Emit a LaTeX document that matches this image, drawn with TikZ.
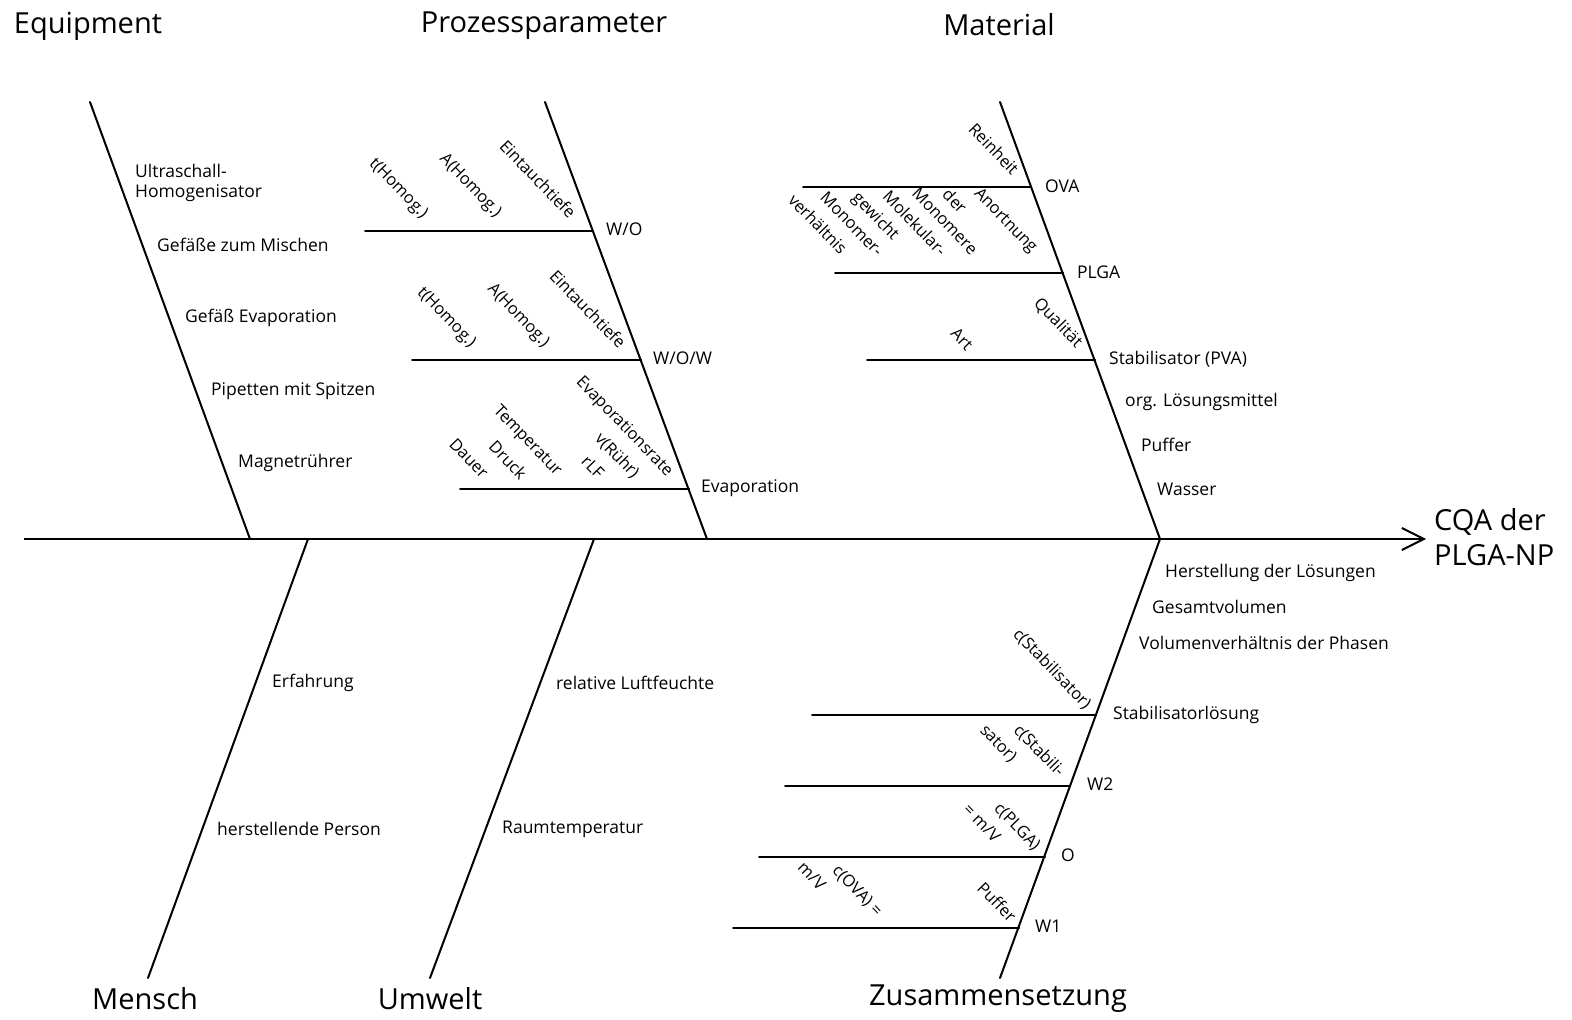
\documentclass[tikz,border=0pt]{standalone}
\usepackage{fontspec}
\setmainfont{Open Sans}
\usetikzlibrary{arrows.meta}
\begin{document}
\begin{tikzpicture}[x=1pt,y=-1pt,
  bone/.style={line width=2pt,line cap=round},
  lbl/.style={anchor=west,inner sep=0pt,font=\fontsize{17.5}{20}\selectfont,align=left},
  rlbl/.style={inner sep=0pt,rotate=-46,font=\fontsize{16.5}{19}\selectfont},
  ttl/.style={inner sep=0pt,font=\fontsize{29}{35}\selectfont,align=left}]
\useasboundingbox (0,0) rectangle (1572,1020);
% spine
\coordinate (s0) at (24,539);
\coordinate (s1) at (1426,539);
\draw[line width=2pt,-{Straight Barb[length=22pt,width=22pt,line width=2pt]}] (s0) -- (s1);
% main bones
\coordinate (eqT) at (90,102);  \coordinate (eqB) at (250,539);
\coordinate (ppT) at (545,102); \coordinate (ppB) at (707,539);
\coordinate (maT) at (1000,102);\coordinate (maB) at (1160,539);
\coordinate (meB) at (148,978); \coordinate (meT) at (308,539);
\coordinate (umB) at (430,978); \coordinate (umT) at (594,539);
\coordinate (zuB) at (1000,978);\coordinate (zuT) at (1160,539);
\draw[bone] (eqT) -- (eqB);
\draw[bone] (ppT) -- (ppB);
\draw[bone] (maT) -- (maB);
\draw[bone] (meB) -- (meT);
\draw[bone] (umB) -- (umT);
\draw[bone] (zuB) -- (zuT);
% titles
\node[ttl] (tEq) at (88,26) {Equipment};
\node[ttl] (tPp) at (544,26) {Prozessparameter};
\node[ttl] (tMa) at (999,25) {Material};
\node[ttl] (tMe) at (145,999) {Mensch};
\node[ttl] (tUm) at (430,999) {Umwelt};
\node[ttl] (tZu) at (998,999) {Zusammensetzung};
\node[ttl,anchor=west] (tCQA) at (1434,537) {CQA der\\PLGA-NP};
% Equipment
\node[lbl] (e1) at (135,183) {Ultraschall-\\Homogenisator};
\node[lbl] (e2) at (157,245) {Gefäße zum Mischen};
\node[lbl] (e3) at (185,318) {Gefäß Evaporation};
\node[lbl] (e4) at (211,391) {Pipetten mit Spitzen};
\node[lbl] (e5) at (238,463) {Magnetrührer};
% Prozessparameter sub-bones
\coordinate (wo0) at (593,231);  \coordinate (wo1) at (365,231);
\coordinate (wow0) at (641,360); \coordinate (wow1) at (412,360);
\coordinate (ev0) at (689,489);  \coordinate (ev1) at (460,489);
\draw[bone] (wo0) -- (wo1);
\draw[bone] (wow0) -- (wow1);
\draw[bone] (ev0) -- (ev1);
\node[lbl] (lwo) at (606,229) {W/O};
\node[lbl] (lwow) at (653,358) {W/O/W};
\node[lbl] (lev) at (701,488) {Evaporation};
\node[rlbl] (p1) at (398,189) {t(Homog.)};
\node[rlbl] (p2) at (470,186) {A(Homog.)};
\node[rlbl] (p3) at (538,179) {Eintauchtiefe};
\node[rlbl] (p4) at (446,318) {t(Homog.)};
\node[rlbl] (p5) at (518,316) {A(Homog.)};
\node[rlbl] (p6) at (588,309) {Eintauchtiefe};
\node[rlbl] (p7) at (469,458) {Dauer};
\node[rlbl] (p8) at (508,460) {Druck};
\node[rlbl] (p9) at (527,441) {Temperatur};
\node[rlbl] (p10) at (593,467) {rLF};
\node[rlbl] (p11) at (617,456) {v(Rühr)};
\node[rlbl] (p12) at (624,427) {Evaporationsrate};
% Material
\coordinate (ova0) at (1031,187); \coordinate (ova1) at (803,187);
\coordinate (plga0) at (1063,273);\coordinate (plga1) at (835,273);
\coordinate (st0) at (1095,360);  \coordinate (st1) at (867,360);
\draw[bone] (ova0) -- (ova1);
\draw[bone] (plga0) -- (plga1);
\draw[bone] (st0) -- (st1);
\node[lbl] (lova) at (1045,186) {OVA};
\node[lbl] (lplga) at (1077,272) {PLGA};
\node[lbl] (lst) at (1109,359) {Stabilisator (PVA)};
\node[lbl] (lorg) at (1125,402) {org. Lösungsmittel};
\node[lbl] (lpuf) at (1141,445) {Puffer};
\node[lbl] (lwas) at (1157,489) {Wasser};
\node[rlbl] (m1) at (994,149) {Reinheit};
\node[rlbl] (m2) at (1005,221) {Anortnung};
\node[rlbl] (m3) at (955,201) {der};
\node[rlbl] (m4) at (945,221) {Monomere};
\node[rlbl] (m5) at (915,223) {Molekular-};
\node[rlbl] (m6) at (875,217) {gewicht};
\node[rlbl] (m7) at (852,224) {Monomer-};
\node[rlbl] (m8) at (818,224) {verhältnis};
\node[rlbl] (m9) at (1058,323) {Qualität};
\node[rlbl] (m10) at (962,339) {Art};
% Mensch / Umwelt
\node[lbl] (h1) at (272,683) {Erfahrung};
\node[lbl] (h2) at (217,829) {herstellende Person};
\node[lbl] (u1) at (556,683) {relative Luftfeuchte};
\node[lbl] (u2) at (502,829) {Raumtemperatur};
% Zusammensetzung
\coordinate (sl0) at (1096,715); \coordinate (sl1) at (812,715);
\coordinate (w20) at (1070,786); \coordinate (w21) at (785,786);
\coordinate (o0) at (1045,857);  \coordinate (o1) at (759,857);
\coordinate (w10) at (1019,928); \coordinate (w11) at (733,928);
\draw[bone] (sl0) -- (sl1);
\draw[bone] (w20) -- (w21);
\draw[bone] (o0) -- (o1);
\draw[bone] (w10) -- (w11);
\node[lbl] (z1) at (1165,573) {Herstellung der Lösungen};
\node[lbl] (z2) at (1152,607) {Gesamtvolumen};
\node[lbl] (z3) at (1139,643) {Volumenverhältnis der Phasen};
\node[lbl] (z4) at (1113,715) {Stabilisatorlösung};
\node[lbl] (z5) at (1087,784) {W2};
\node[lbl] (z6) at (1061,855) {O};
\node[lbl] (z7) at (1035,926) {W1};
\node[rlbl] (r1) at (1052,669) {c(Stabilisator)};
\node[rlbl] (r2) at (1039,751) {c(Stabili-};
\node[rlbl] (r3) at (998,744) {sator)};
\node[rlbl] (r4) at (1017,827) {c(PLGA)};
\node[rlbl] (r5) at (982,823) {= m/V};
\node[rlbl] (r6) at (997,902) {Puffer};
\node[rlbl] (r7) at (857,891) {c(OVA) =};
\node[rlbl] (r8) at (812,876) {m/V};
\end{tikzpicture}
\end{document}
